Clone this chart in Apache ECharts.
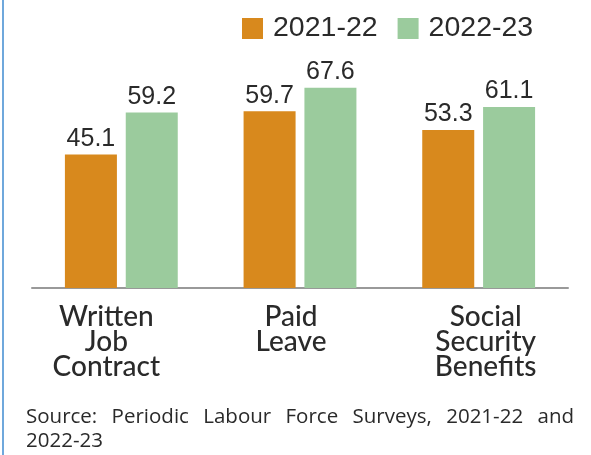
<!DOCTYPE html>
<html>
<head>
<meta charset="utf-8">
<script src="https://cdn.jsdelivr.net/npm/echarts@6/dist/echarts.min.js"></script>
<style>
  html, body { margin: 0; padding: 0; background: #fff; }
  #chart { width: 591px; height: 455px; }
</style>
</head>
<body>
<div id="chart"></div>
<script>
// Share of regular wage workers with each benefit (%)
const categories = ['Written\nJob\nContract', 'Paid\nLeave', 'Social\nSecurity\nBenefits'];
const seriesNames = ['2021-22', '2022-23'];
const values2122 = [45.1, 59.7, 53.3];
const values2223 = [59.2, 67.6, 61.1];
const sourceLines = ['Source: Periodic Labour Force Surveys, 2021-22 and', '2022-23'];

const ORANGE = '#D8891D';
const GREEN = '#9BCB9D';
const TEXT = '#2a2a2a';
const FONT = 'Lato';
const SRC_FONT = 'Open Sans';
const NUM_FONT = 'Liberation Sans';

// per-category label nudges (rich-text padding shifts each block sideways)
const labelStyles = ['c0', 'c1', 'c2'];
function catStyle(padding) {
  return { fontFamily: FONT, fontSize: 28, fontWeight: 500, color: TEXT, lineHeight: 25, padding: padding };
}
const rich = {
  c0: catStyle([0, 30, 0, 0]),
  c1: catStyle([0, 18, 0, 0]),
  c2: catStyle([0, 0, 0, 14])
};

// source note: first line spread over a fixed width, like justified text
const SRC_SIZE = 20.5;
const SRC_WIDTH = 548;
const measureCtx = document.createElement('canvas').getContext('2d');
measureCtx.font = SRC_SIZE + 'px "' + SRC_FONT + '"';
const firstWords = sourceLines[0].split(' ');
const wordsWidth = firstWords.reduce(function (s, w) { return s + measureCtx.measureText(w).width; }, 0);
const gapWidth = Math.max(4, (SRC_WIDTH - wordsWidth) / (firstWords.length - 1));

const srcBase = { fontFamily: SRC_FONT, fontSize: SRC_SIZE, color: TEXT, lineHeight: 24 };
const srcRich = {
  w: srcBase,
  g: Object.assign({}, srcBase, { width: gapWidth })
};
const sourceText = sourceLines.map(function (line, i) {
  if (i === sourceLines.length - 1) return '{w|' + line + '}';
  return line.split(' ').map(function (w) { return '{w|' + w + '}'; }).join('{g| }');
}).join('\n');

const chart = echarts.init(document.getElementById('chart'), null, { renderer: 'canvas' });

function valueLabel() {
  return {
    show: true, position: 'top', distance: 3,
    fontFamily: NUM_FONT, fontSize: 25, color: TEXT,
    formatter: function (p) { return p.value.toFixed(1); }
  };
}

chart.setOption({
  animation: false,
  backgroundColor: '#fff',
  textStyle: { fontFamily: FONT },
  graphic: [{
    type: 'rect',
    shape: { x: 2, y: 0, width: 2, height: 455 },
    style: { fill: '#6FA8DC' }
  }],
  title: {
    text: sourceText,
    left: 21,
    top: 400,
    textStyle: { fontFamily: SRC_FONT, fontSize: SRC_SIZE, fontWeight: 'normal', color: TEXT, lineHeight: 24, rich: srcRich }
  },
  legend: {
    data: seriesNames,
    left: 242,
    top: 14,
    padding: 0,
    itemWidth: 21,
    itemHeight: 21,
    itemGap: 20,
    icon: 'rect',
    textStyle: { fontFamily: NUM_FONT, fontSize: 28.5, color: TEXT, padding: [0, 0, 0, 5] }
  },
  grid: { left: 32, right: 23, top: 51, bottom: 167, containLabel: false },
  xAxis: {
    type: 'category',
    data: categories,
    axisLine: { show: true, lineStyle: { color: '#999', width: 2 } },
    axisTick: { show: false },
    axisLabel: {
      margin: 16,
      interval: 0,
      formatter: function (value, idx) {
        const s = labelStyles[idx];
        return value.split('\n').map(function (line) { return '{' + s + '|' + line + '}'; }).join('\n');
      },
      rich: rich
    }
  },
  yAxis: {
    type: 'value',
    min: 0,
    max: 80,
    show: false,
    splitLine: { show: false }
  },
  series: [
    {
      name: seriesNames[0],
      type: 'bar',
      data: values2122,
      barWidth: 52,
      barGap: '17%',
      itemStyle: { color: ORANGE },
      label: valueLabel()
    },
    {
      name: seriesNames[1],
      type: 'bar',
      data: values2223,
      barWidth: 52,
      barGap: '17%',
      itemStyle: { color: GREEN },
      label: valueLabel()
    }
  ]
});
</script>
</body>
</html>
